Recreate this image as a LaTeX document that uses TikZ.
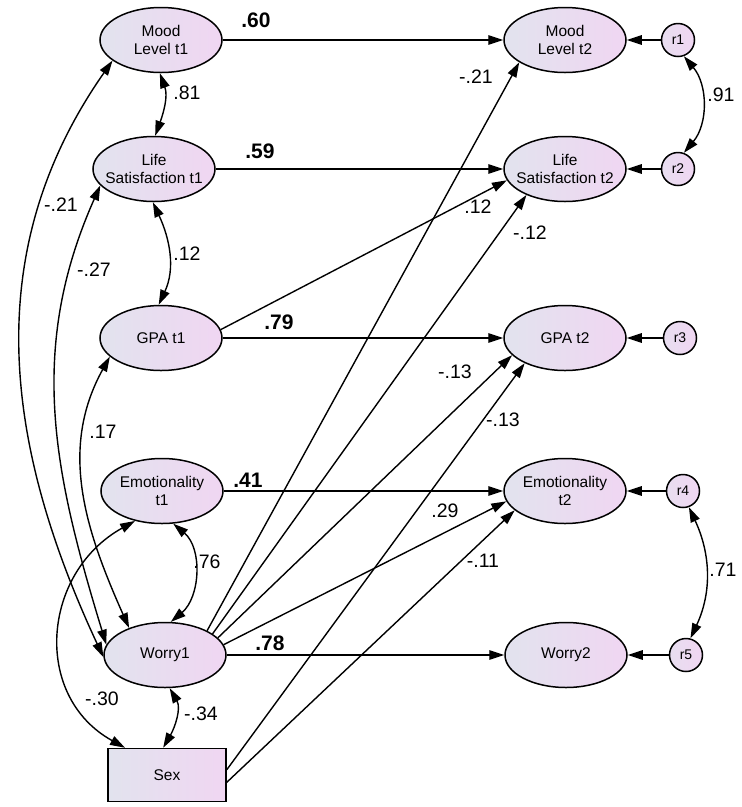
\documentclass[tikz,border=0pt]{standalone}
\usepackage{fontspec}
\setmainfont{Liberation Sans}
\usetikzlibrary{arrows.meta,positioning,shapes}

\definecolor{lavL}{RGB}{226,227,238}
\definecolor{lavR}{RGB}{240,214,242}

\begin{document}
\begin{tikzpicture}[
            x = 1pt, y = 1pt,
            > = {Triangle[length=15pt, width=9.5pt]}, % arrow head style
            line width = 1.4pt, % line style
            on grid
        ]

        \tikzstyle{latent}=[
            ellipse,
            draw = black,
            line width = 1.5pt,
            left color = lavL, right color = lavR,
            minimum width = 122pt, minimum height = 65pt,
            inner xsep = -8pt, inner ysep = -2pt,
            align = center,
            font = \fontsize{15.5}{18}\selectfont
        ]
        \tikzstyle{observed}=[latent, rectangle, minimum width = 118pt, minimum height = 53pt]
        \tikzstyle{resid}=[latent, circle, minimum size = 33pt, inner sep = 0pt,
            left color = lavL!60!lavR, font = \fontsize{14}{16}\selectfont]
        \tikzstyle{wt}=[inner sep = 0pt, font = \fontsize{19.5}{21}\selectfont]
        \tikzstyle{bwt}=[wt, font = \bfseries\fontsize{21}{23}\selectfont]

        \useasboundingbox (0,0) rectangle (742,-807);

        \node[latent] (mood1) at (161,-40) {Mood\\Level t1};
        \node[latent] (life1) [below=129pt of mood1, xshift=-7pt] {Life\\Satisfaction t1};
        \node[latent] (gpa1) [below=298pt of mood1] {GPA t1};
        \node[latent] (emo1) [below=153pt of gpa1, xshift=1pt] {Emotionality\\t1};
        \node[latent] (worry1) [below=164pt of emo1, xshift=3pt] {Worry1};
        \node[observed] (sex) [below=120pt of worry1, xshift=2pt] {Sex};

        \node[latent] (mood2) [right=404pt of mood1] {Mood\\Level t2};
        \node[latent] (life2) [right=411pt of life1] {Life\\Satisfaction t2};
        \node[latent] (gpa2) [right=404pt of gpa1] {GPA t2};
        \node[latent] (emo2) [right=403pt of emo1] {Emotionality\\t2};
        \node[latent] (worry2) [right=401pt of worry1] {Worry2};

        \node[resid] (r1) [right=113pt of mood2] {r1};
        \node[resid] (r2) [right=113pt of life2] {r2};
        \node[resid] (r3) [right=115pt of gpa2] {r3};
        \node[resid] (r4) [right=118pt of emo2] {r4};
        \node[resid] (r5) [right=120pt of worry2] {r5};

        % stabilities
        \draw[->] (mood1) -- (mood2) node[bwt] at (256,-20) {.60};
        \draw[->] (life1) -- (life2) node[bwt] at (260,-151) {.59};
        \draw[->] (gpa1) -- (gpa2) node[bwt] at (279,-322) {.79};
        \draw[->] (emo1) -- (emo2) node[bwt] at (248,-480) {.41};
        \draw[->] (worry1) -- (worry2) node[bwt] at (270,-643) {.78};

        % cross-lagged paths
        \draw[->] (gpa1.8) -- (life2.191) node[wt] at (478,-207) {.12};
        \draw[->] (worry1.30) -- (mood2.206) node[wt] at (476,-77) {-.21};
        \draw[->] (worry1.24) -- (life2.214) node[wt] at (530,-233) {-.12};
        \draw[->] (worry1.18) -- (gpa2.198) node[wt] at (455,-372) {-.13};
        \draw[->] (worry1.10) -- (emo2.190) node[wt] at (445,-511) {.29};
        \draw[->] (sex.5) -- (gpa2.212) node[wt] at (503,-420) {-.13};
        \draw[->] (sex.-7) -- (emo2.201) node[wt] at (483,-561) {-.11};

        % residuals
        \draw[->] (r1) -- (mood2);
        \draw[->] (r2) -- (life2);
        \draw[->] (r3) -- (gpa2);
        \draw[->] (r4) -- (emo2);
        \draw[->] (r5) -- (worry2);

        % correlations
        \draw[<->] (mood1.268) to[out=-70, in=70] (life1.88) node[wt] at (187,-93) {.81};
        \draw[<->] (life1.268) to[out=-65, in=65] (gpa1.94) node[wt] at (187,-254) {.12};
        \draw[<->] (mood1.203) to[out=235, in=115] (worry1.182) node[wt] at (61,-205) {-.21};
        \draw[<->] (life1.197) to[out=246, in=107] (worry1.170) node[wt] at (94,-270) {-.27};
        \draw[<->] (gpa1.200) to[out=241, in=114] (worry1.143) node[wt] at (103,-432) {.17};
        \draw[<->] (emo1.289) to[out=-40, in=40] (worry1.80) node[wt] at (207,-562) {.76};
        \draw[<->] (emo1.228) to[out=209, in=151, looseness=1.2] (sex.147) node[wt] at (102,-699) {-.30};
        \draw[<->] (worry1.278) to[out=-60, in=60] (sex.98) node[wt] at (201,-714) {-.34};
        \draw[<->] (r1.-70) to[out=-50, in=50] (r2.70) node[wt] at (721,-95) {.91};
        \draw[<->] (r4.-70) to[out=-65, in=65] (r5.75) node[wt] at (723,-570) {.71};

    \end{tikzpicture}
\end{document}
